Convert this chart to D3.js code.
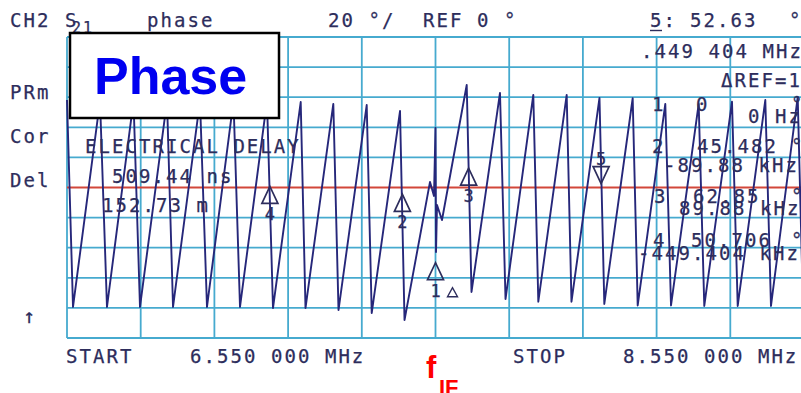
<!DOCTYPE html>
<html>
<head>
<meta charset="utf-8">
<script src="https://cdn.jsdelivr.net/npm/d3@7/dist/d3.min.js"></script>
<style>
  html, body { margin: 0; padding: 0; background: #fff; }
  svg { display: block; }
  .mono { font-family: "DejaVu Sans Mono", monospace; font-size: 19px; letter-spacing: 2.05px; fill: #2d2d5c; stroke: #2d2d5c; stroke-width: 0.25px; }
</style>
</head>
<body>
<svg id="chart" width="801" height="393"></svg>
<script>
// S21 phase trace, 6.55–8.55 MHz sweep, 20 °/div, reference 0 °
const traceFreqMHz = [
  6.5500, 6.5663, 6.6396, 6.6585, 6.7305, 6.7481, 6.8214, 6.8377, 6.9109, 6.9299,
  7.0018, 7.0195, 7.0927, 7.1090, 7.1842, 7.1972, 7.2727, 7.2868, 7.3633, 7.3769,
  7.4537, 7.4659, 7.5351, 7.5459, 7.5500, 7.5514, 7.5541, 7.5676, 7.6347, 7.6477,
  7.7250, 7.7400, 7.8154, 7.8290, 7.9060, 7.9190, 7.9950, 8.0081, 8.0851, 8.0987,
  8.1736, 8.1891, 8.2642, 8.2794, 8.3546, 8.3701, 8.4450, 8.4604, 8.5329, 8.5473
];
const tracePhaseDeg = [
   58.1, -79.4,  57.5, -79.4,  57.5, -79.4,  57.5, -79.4,  57.5, -79.4,
   57.5, -79.4,  57.5, -80.1,  56.8, -80.1,  55.5, -81.4,  54.8, -83.4,
   50.8, -88.1,   3.7,  -5.6,  39.5, -42.9, -11.6, -21.6,  68.1, -69.4,
   62.8, -74.1,  61.5, -75.9,  61.5, -75.9,  59.5, -77.4,  59.3, -78.4,
   55.5, -78.4,  55.5, -78.7,  57.0, -78.7,  58.1, -78.7,  60.1, -78.7
];

// Graticule lines
const gridPhaseDeg = [-100, -80, -60, -40, -20, 0, 20, 40, 60, 80, 100];
const gridFreqMHz = [6.55, 6.75, 6.95, 7.15, 7.35, 7.55, 7.75, 7.95, 8.15, 8.35, 8.55];
const refPhaseDeg = 0;

// Markers, relative to marker 1 (ΔREF=1)
const markerIds = ["1", "2", "3", "4", "5"];
const markerDeltaKHz = [0, -89.88, 89.88, -449.404, 449.404];
const markerDeltaDeg = [0, 45.482, 62.85, 50.706, 52.63];
const refMarkerFreqMHz = 7.55;
const refMarkerPhaseDeg = -50;
const activeMarker = "5";

const svg = d3.select("#chart");
const x = d3.scaleLinear().domain([6.55, 8.55]).range([67, 804]);
const y = d3.scaleLinear().domain([-100, 100]).range([338, 37]);

const gridColor = "#46aacf";
const ink = "#2d2d5c";
const traceColor = "#26277a";

// graticule
const grid = svg.append("g");
grid.selectAll("line.h").data(gridPhaseDeg.filter(d => d !== refPhaseDeg)).join("line")
  .attr("x1", x(6.55)).attr("x2", x(8.55))
  .attr("y1", d => y(d)).attr("y2", d => y(d))
  .attr("stroke", gridColor).attr("stroke-width", 1.8);
grid.selectAll("line.v").data(gridFreqMHz).join("line")
  .attr("x1", d => x(d)).attr("x2", d => x(d))
  .attr("y1", y(100)).attr("y2", y(-100))
  .attr("stroke", gridColor).attr("stroke-width", 1.8);

// reference line
svg.append("line")
  .attr("x1", x(6.55)).attr("x2", x(8.55))
  .attr("y1", y(refPhaseDeg)).attr("y2", y(refPhaseDeg))
  .attr("stroke", "#d2473a").attr("stroke-width", 1.8);

// trace
const pts = traceFreqMHz.map((f, i) => [f, tracePhaseDeg[i]]);
svg.append("path")
  .datum(pts)
  .attr("d", d3.line().x(d => x(d[0])).y(d => y(d[1])))
  .attr("fill", "none")
  .attr("stroke", traceColor)
  .attr("stroke-width", 1.9)
  .attr("stroke-linejoin", "round");

// markers
const markers = markerIds.map((id, i) => ({
  id,
  f: refMarkerFreqMHz + markerDeltaKHz[i] / 1000,
  p: refMarkerPhaseDeg + markerDeltaDeg[i]
}));
const mg = svg.append("g");
markers.forEach(m => {
  const mx = x(m.f), my = y(m.p);
  if (m.id === activeMarker) {
    mg.append("path")
      .attr("d", `M${mx},${my} L${mx - 8},${my - 17} L${mx + 8},${my - 17} Z`)
      .attr("fill", "none").attr("stroke", ink).attr("stroke-width", 1.7);
    mg.append("text").attr("class", "mono").style("font-size", "17px").style("letter-spacing", "0px")
      .attr("x", mx).attr("y", my - 19).attr("text-anchor", "middle").text(m.id);
  } else {
    mg.append("path")
      .attr("d", `M${mx},${my} L${mx - 8},${my + 17} L${mx + 8},${my + 17} Z`)
      .attr("fill", "none").attr("stroke", ink).attr("stroke-width", 1.7);
    mg.append("text").attr("class", "mono").style("font-size", "17px").style("letter-spacing", "0px")
      .attr("x", mx).attr("y", my + 34).attr("text-anchor", "middle").text(m.id);
    if (m.id === "1") {
      mg.append("path")
        .attr("d", `M${mx + 12},${my + 34} L${mx + 17},${my + 25} L${mx + 22},${my + 34} Z`)
        .attr("fill", "none").attr("stroke", ink).attr("stroke-width", 1.4);
    }
  }
});

// analyser annotations
function txt(str, tx, ty, size) {
  const t = svg.append("text").attr("class", "mono").attr("x", tx).attr("y", ty).text(str);
  if (size) t.style("font-size", size + "px");
  return t;
}
txt("CH2", 10, 27);
txt("S", 65, 27);
txt("21", 72, 33, 15);
txt("phase", 147, 27);
txt("20 °/", 328, 27);
txt("REF 0 °", 423, 27);
txt("5:", 650, 27);
svg.append("line").attr("x1", 650).attr("x2", 662).attr("y1", 30.5).attr("y2", 30.5)
  .attr("stroke", ink).attr("stroke-width", 1.4);
txt("52.63", 690, 27);
txt("°", 789, 27);

txt("PRm", 10, 99);
txt("Cor", 10, 143);
txt("Del", 10, 187);
txt("↑", 23, 323, 20);

txt("ELECTRICAL DELAY", 85, 153);
txt("509.44 ns", 112, 183);
txt("152.73 m", 102, 212);

txt(".449 404 MHz", 641, 58);
txt("ΔREF=1", 721, 87);
txt("1", 652, 111); txt("0", 696, 111); txt("°", 791, 111);
txt("0 Hz", 748, 123);
txt("2", 652, 153); txt("45.482", 697, 153); txt("°", 791, 153);
txt("-89.88 kHz", 664, 172);
txt("3", 654, 203); txt("62.85", 693, 203); txt("°", 791, 203);
txt("89.88 kHz", 679, 215);
txt("4", 653, 247); txt("50.706", 691, 247); txt("°", 791, 247);
txt("-449.404 kHz", 638, 260);

txt("START", 66, 363);
txt("6.550 000 MHz", 190, 363);
txt("STOP", 513, 363);
txt("8.550 000 MHz", 623, 363);

// title box
svg.append("rect").attr("x", 70).attr("y", 33).attr("width", 209).attr("height", 85)
  .attr("fill", "#fff").attr("stroke", "#000").attr("stroke-width", 2.5);
svg.append("text").attr("x", 94).attr("y", 94)
  .style("font-family", "'Liberation Sans', Arial, sans-serif").style("font-weight", "bold")
  .style("font-size", "52px").style("fill", "#0000f0").text("Phase");

// IF frequency label
const fif = svg.append("text").attr("x", 426).attr("y", 378)
  .style("font-family", "'Liberation Sans', Arial, sans-serif").style("font-weight", "bold")
  .style("fill", "#ff0000");
fif.append("tspan").style("font-size", "31px").text("f");
fif.append("tspan").attr("x", 439).attr("y", 395).style("font-size", "22px").text("IF");
</script>
</body>
</html>
